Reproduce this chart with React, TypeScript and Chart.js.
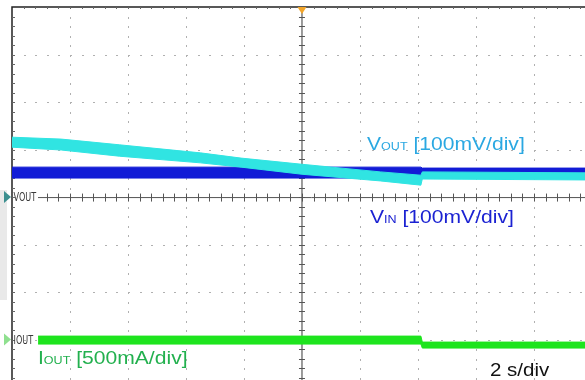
import { useEffect, useRef } from "react";
import { Chart, registerables } from "chart.js";

Chart.register(...registerables);

// Time axis: seconds, 2 s/div, trigger at 0 s (screen centre)
const X_MIN = -10;
const X_MAX = 9.76;
// Vertical axis: screen divisions relative to the VOUT/VIN marker
const Y_MIN = -3.85;
const Y_MAX = 4;

// VOUT band (mV offset from marker, 100 mV/div)
const voutTime = [-10, -8.3, -6.3, -3.5, -2.1, 0, 2.7, 4.1, 4.15, 9.76];
const voutUpper = [126, 122, 110, 93, 82, 69, 53, 46, 53, 51];
const voutLower = [105, 99, 86, 72, 63, 48, 34, 25, 38, 36];

// VIN band (mV offset from marker, 100 mV/div)
const vinTime = [-10, 4.1, 4.15, 9.76];
const vinUpper = [63, 63, 61, 61];
const vinLower = [40, 40, 48, 48];

// IOUT band (mA offset from its marker, 500 mA/div), marker at -3 div
const ioutTime = [-9.1, 4.1, 4.15, 9.76];
const ioutUpper = [37, 37, -26, -26];
const ioutLower = [-47, -47, -89, -89];
const IOUT_MARKER_DIV = -3;

const labelVout = ["V", "OUT", " [100mV/div]"];
const labelVin = ["V", "IN", " [100mV/div]"];
const labelIout = ["I", "OUT", " [500mA/div]"];
const labelTime = "2 s/div";
const markerVout = "VOUT";
const markerIout = "IOUT";

const CYAN = "rgb(48,228,226)";
const BLUE = "rgb(18,28,214)";
const GREEN = "rgb(30,228,30)";

const pts = (t: number[], v: number[], perDiv: number, off: number) =>
  t.map((x, i) => ({ x, y: off + v[i] / perDiv }));

const FONT = '"Liberation Sans", Arial, sans-serif';

function drawParts(
  ctx: CanvasRenderingContext2D,
  parts: string[],
  x: number,
  y: number,
  color: string
) {
  const sx = 1.14;
  ctx.save();
  ctx.fillStyle = color;
  ctx.textBaseline = "alphabetic";
  ctx.translate(x, y);
  ctx.scale(sx, 1);
  let cx = 0;
  parts.forEach((p, i) => {
    ctx.font = (i === 1 ? "11px " : "18.5px ") + FONT;
    ctx.fillText(p, cx, 0);
    cx += ctx.measureText(p).width;
  });
  ctx.restore();
}

const scopePlugin = {
  id: "scope",
  beforeDatasetsDraw(chart: any) {
    const ctx: CanvasRenderingContext2D = chart.ctx;
    const xs = chart.scales.x;
    const ys = chart.scales.y;
    const { left, top, right, bottom } = chart.chartArea;
    ctx.save();
    // gray side panel
    ctx.fillStyle = "#e9e9e9";
    ctx.fillRect(0, 190, 7, 110);
    // dotted grid
    ctx.fillStyle = "#b0b0b0";
    for (let i = 1; i < 10; i++) {
      const t = X_MIN + 2 * i;
      if (t === 0) continue;
      const px = Math.round(xs.getPixelForValue(t));
      for (let d = Y_MAX; d >= Y_MIN; d -= 0.2) {
        const py = Math.round(ys.getPixelForValue(d));
        ctx.fillRect(px, py, 1, 2);
      }
    }
    for (let j = 1; j < 8; j++) {
      const d = Y_MAX - j;
      if (Math.abs(d) < 1e-6) continue;
      const py = Math.round(ys.getPixelForValue(d));
      for (let t = X_MIN; t <= X_MAX; t += 0.4) {
        const px = Math.round(xs.getPixelForValue(t));
        ctx.fillRect(px, py, 2, 1);
      }
    }
    // centre cross
    const cx = xs.getPixelForValue(0);
    const cy = ys.getPixelForValue(0);
    ctx.strokeStyle = "#7a7a7a";
    ctx.lineWidth = 1.5;
    ctx.beginPath();
    ctx.moveTo(cx, top);
    ctx.lineTo(cx, bottom);
    ctx.stroke();
    ctx.strokeStyle = "#555";
    ctx.lineWidth = 1;
    ctx.beginPath();
    ctx.moveTo(left + 26, cy + 0.5);
    ctx.lineTo(right, cy + 0.5);
    ctx.stroke();
    ctx.beginPath();
    for (let t = X_MIN + 0.4; t <= X_MAX; t += 0.4) {
      const px = Math.round(xs.getPixelForValue(t)) + 0.5;
      if (px < left + 26) continue;
      ctx.moveTo(px, cy - 3.5);
      ctx.lineTo(px, cy + 4.5);
    }
    for (let d = Y_MAX - 0.2; d >= Y_MIN; d -= 0.2) {
      const py = Math.round(ys.getPixelForValue(d)) + 0.5;
      ctx.moveTo(cx - 3, py);
      ctx.lineTo(cx + 3, py);
    }
    ctx.stroke();
    // borders
    ctx.strokeStyle = "#222";
    ctx.lineWidth = 1.5;
    ctx.beginPath();
    ctx.moveTo(left, bottom);
    ctx.lineTo(left, top);
    ctx.lineTo(right, top);
    ctx.stroke();
    ctx.lineWidth = 1;
    ctx.strokeStyle = "#666";
    ctx.beginPath();
    for (let d = Y_MAX - 0.2; d >= Y_MIN; d -= 0.2) {
      const py = Math.round(ys.getPixelForValue(d)) + 0.5;
      ctx.moveTo(left, py);
      ctx.lineTo(left + 3, py);
    }
    for (let t = X_MIN + 0.4; t <= X_MAX; t += 0.4) {
      const px = Math.round(xs.getPixelForValue(t)) + 0.5;
      ctx.moveTo(px, top);
      ctx.lineTo(px, top + 2);
    }
    ctx.stroke();
    ctx.restore();
  },
  afterDatasetsDraw(chart: any) {
    const ctx: CanvasRenderingContext2D = chart.ctx;
    const xs = chart.scales.x;
    const ys = chart.scales.y;
    const { top } = chart.chartArea;
    ctx.save();
    // trigger marker
    const cx = xs.getPixelForValue(0);
    ctx.fillStyle = "#f2a52a";
    ctx.beginPath();
    ctx.moveTo(cx - 4.5, top);
    ctx.lineTo(cx + 4.5, top);
    ctx.lineTo(cx, top + 7);
    ctx.closePath();
    ctx.fill();
    // channel markers
    const yV = ys.getPixelForValue(0);
    const yI = ys.getPixelForValue(IOUT_MARKER_DIV);
    ctx.fillStyle = "#3c8f8f";
    ctx.beginPath();
    ctx.moveTo(4, yV - 6);
    ctx.lineTo(11, yV);
    ctx.lineTo(4, yV + 6);
    ctx.closePath();
    ctx.fill();
    ctx.fillStyle = "#8fe08f";
    ctx.beginPath();
    ctx.moveTo(4, yI - 6);
    ctx.lineTo(11, yI);
    ctx.lineTo(4, yI + 6);
    ctx.closePath();
    ctx.fill();
    // marker labels
    ctx.fillStyle = "#3a3a3a";
    ctx.textBaseline = "middle";
    [
      [markerVout, yV],
      [markerIout, yI],
    ].forEach(([s, y]) => {
      ctx.save();
      ctx.translate(13.5, (y as number) + 1);
      ctx.scale(0.72, 1);
      ctx.font = '12.5px "DejaVu Sans Condensed", "DejaVu Sans", sans-serif';
      ctx.fillText(s as string, 0, 0);
      ctx.restore();
    });
    // channel annotations
    drawParts(ctx, labelVout, 367, 150, "#2aa8e2");
    drawParts(ctx, labelVin, 370, 223, "#1b22d2");
    drawParts(ctx, labelIout, 38, 364, "#22b04e");
    ctx.save();
    ctx.fillStyle = "#111";
    ctx.translate(490, 371);
    ctx.scale(1.14, 1);
    ctx.font = "18px " + FONT;
    ctx.fillText(labelTime, 0, 0);
    ctx.restore();
    ctx.restore();
  },
};

export default function App() {
  const ref = useRef<HTMLCanvasElement>(null);
  useEffect(() => {
    if (!ref.current) return;
    const band = (color: string) => ({
      borderColor: color,
      backgroundColor: color,
      borderWidth: 1,
      pointRadius: 0,
      tension: 0,
    });
    const chart = new Chart(ref.current, {
      type: "line",
      data: {
        datasets: [
          { ...band(CYAN), data: pts(voutTime, voutUpper, 100, 0), fill: false },
          { ...band(CYAN), data: pts(voutTime, voutLower, 100, 0), fill: "-1" },
          { ...band(BLUE), data: pts(vinTime, vinUpper, 100, 0), fill: false },
          { ...band(BLUE), data: pts(vinTime, vinLower, 100, 0), fill: "-1" },
          {
            ...band(GREEN),
            data: pts(ioutTime, ioutUpper, 500, IOUT_MARKER_DIV),
            fill: false,
          },
          {
            ...band(GREEN),
            data: pts(ioutTime, ioutLower, 500, IOUT_MARKER_DIV),
            fill: "-1",
          },
        ] as any,
      },
      options: {
        responsive: false,
        animation: false,
        layout: { padding: { left: 12, top: 7, right: 0, bottom: 0 } },
        plugins: { legend: { display: false }, tooltip: { enabled: false } },
        scales: {
          x: { type: "linear", min: X_MIN, max: X_MAX, display: false },
          y: { type: "linear", min: Y_MIN, max: Y_MAX, display: false },
        },
      },
      plugins: [scopePlugin],
    });
    return () => chart.destroy();
  }, []);
  return (
    <div style={{ position: "absolute", left: 0, top: 0, width: 585, height: 380, background: "#fff" }}>
      <canvas ref={ref} width={585} height={380} style={{ display: "block" }} />
    </div>
  );
}
